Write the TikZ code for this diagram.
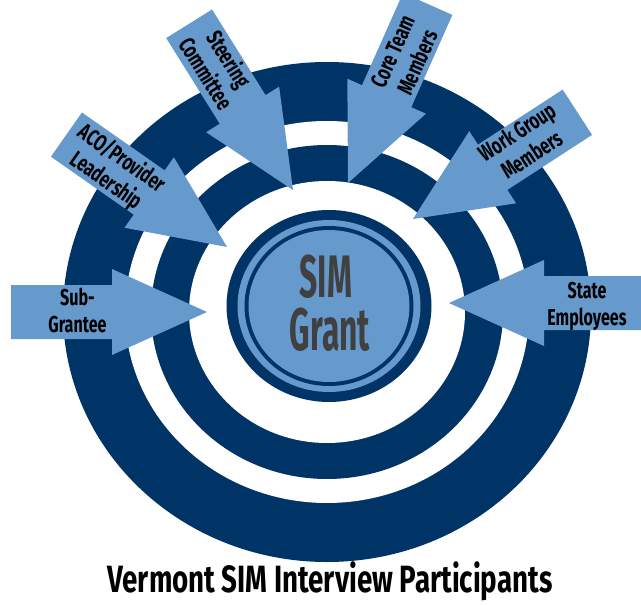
\documentclass[tikz,border=0pt]{standalone}
\usepackage{fontspec}
\newfontfamily\arrowfont[FakeStretch=0.7]{Fira Sans}
\newfontfamily\centerfont[FakeStretch=0.53]{Fira Sans}
\newfontfamily\titlefont[FakeStretch=0.73]{Fira Sans}
\definecolor{navy}{RGB}{0,51,102}
\definecolor{lightblue}{RGB}{102,153,204}
\definecolor{simgray}{RGB}{64,64,64}
\tikzset{
  arrowbody/.style={fill=lightblue},
  atext/.style={font=\arrowfont\bfseries\fontsize{23}{27}\selectfont, text=black, align=center, inner sep=0pt},
  ctext/.style={font=\centerfont\bfseries\fontsize{60}{60}\selectfont, text=simgray, inner sep=0pt},
  ttext/.style={font=\titlefont\bfseries\fontsize{38}{40}\selectfont, text=black, inner sep=0pt}
}
\newcommand{\blockarrow}[3]{%
  \path[arrowbody, shift={(#1,#2)}, rotate=#3]
    (0,0) -- (-95,43) -- (-95,27) -- (-196,27) -- (-196,-27) -- (-95,-27) -- (-95,-43) -- cycle;}
\begin{document}
\begin{tikzpicture}[x=1pt,y=-1pt]
\useasboundingbox (0,0) rectangle (641,605);
% rings
\fill[navy]  (327,312) ellipse [x radius=264pt, y radius=250pt];
\fill[white] (327,312) ellipse [x radius=202pt, y radius=191pt];
\fill[navy]  (327,312) ellipse [x radius=176pt, y radius=167pt];
\fill[white] (327,312) ellipse [x radius=138pt, y radius=131pt];
% central disc
\fill[navy]      (329,306) ellipse [x radius=102.5pt, y radius=96pt];
\fill[lightblue] (329,306) ellipse [x radius=91.5pt, y radius=86pt];
\fill[navy]      (329,306) ellipse [x radius=84.5pt, y radius=80pt];
\fill[lightblue] (329,306) ellipse [x radius=80.5pt, y radius=76pt];
\node[ctext, anchor=base] (sim) at (326,297) {SIM};
\node[ctext, anchor=base] (grant) at (330,350) {Grant};
% arrows
\blockarrow{207}{312}{0}
\blockarrow{449}{303}{180}
\blockarrow{413}{219}{213}
\blockarrow{348}{183}{246}
\blockarrow{293}{190}{-58}
\blockarrow{227}{247}{-35}
\node[atext] (sub) at (77.5,310) {Sub-\\Grantee};
\node[atext] (state) at (587,306) {State\\Employees};
\node[atext, rotate=33] (work) at (524,143) {Work Group\\Members};
\node[atext, rotate=66] (core) at (405,57) {Core Team\\Members};
\node[atext, rotate=-58] (steer) at (218,66) {Steering\\Committee};
\node[atext, rotate=-35] (aco) at (114,170) {ACO/Provider\\Leadership};
% title
\node[ttext, anchor=base] (title) at (330,592) {Vermont SIM Interview Participants};
\end{tikzpicture}
\end{document}
